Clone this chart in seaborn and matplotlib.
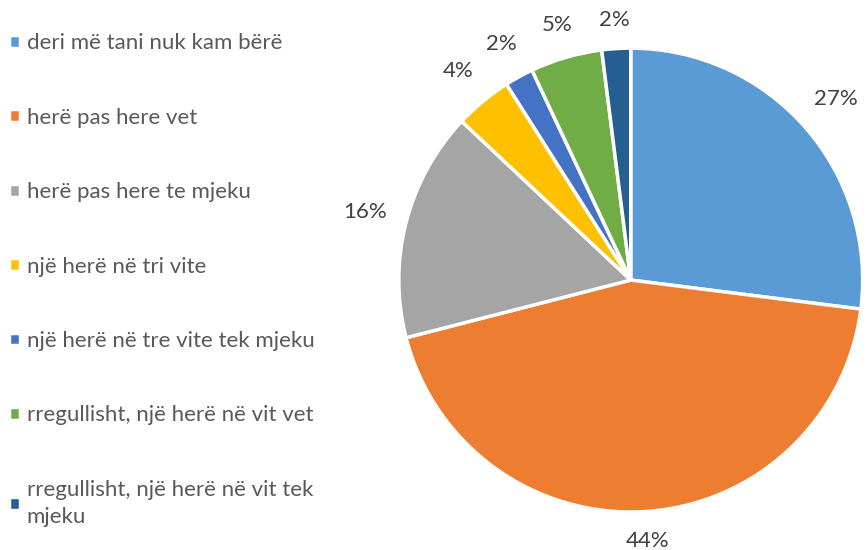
import numpy as np
import pandas as pd
import matplotlib
matplotlib.use("Agg")
import matplotlib.pyplot as plt
import seaborn as sns

# data
categories = [
    "deri më tani nuk kam bërë",
    "herë pas here vet",
    "herë pas here te mjeku",
    "një herë në tri vite",
    "një herë në tre vite tek mjeku",
    "rregullisht, një herë në vit vet",
    "rregullisht, një herë në vit tek\nmjeku",
]
shares = [27, 44, 16, 4, 2, 5, 2]
colors = ["#5B9BD5", "#ED7D31", "#A5A5A5", "#FFC000", "#4472C4", "#70AD47", "#255E91"]

sns.set_style("white")
plt.rcParams["font.family"] = ["Lato", "DejaVu Sans"]

df = pd.DataFrame({"category": categories, "share": shares})

fig = plt.figure(figsize=(8.67, 5.5), dpi=100)
ax = fig.add_axes([0.460, 0.069, 0.535, 0.8436])

wedges, texts, autotexts = ax.pie(
    df["share"],
    colors=colors,
    startangle=90,
    counterclock=False,
    autopct="%1.0f%%",
    pctdistance=1.12,
    wedgeprops=dict(edgecolor="white", linewidth=2.5),
    textprops=dict(fontsize=16, color="#404040"),
)

# push labels out so their box sits just outside the rim (like Excel's outside end)
for w, t in zip(wedges, autotexts):
    ang = np.deg2rad((w.theta1 + w.theta2) / 2)
    c, s = np.cos(ang), np.sin(ang)
    d = 1.09 + 0.09 * abs(c) + 0.03 * abs(s)
    t.set_position((d * c, d * s))

ax.set_xlim(-1, 1)
ax.set_ylim(-1, 1)
ax.set_aspect("equal")

leg = fig.legend(
    wedges,
    df["category"],
    loc="upper left",
    bbox_to_anchor=(-0.013, 0.976),
    frameon=False,
    fontsize=16,
    labelcolor="#595959",
    handlelength=0.5,
    handleheight=0.5,
    handletextpad=0.3,
    labelspacing=2.45,
)
leg.get_texts()[-1].set_linespacing(1.45)

fig.savefig("out.png", dpi=100)
